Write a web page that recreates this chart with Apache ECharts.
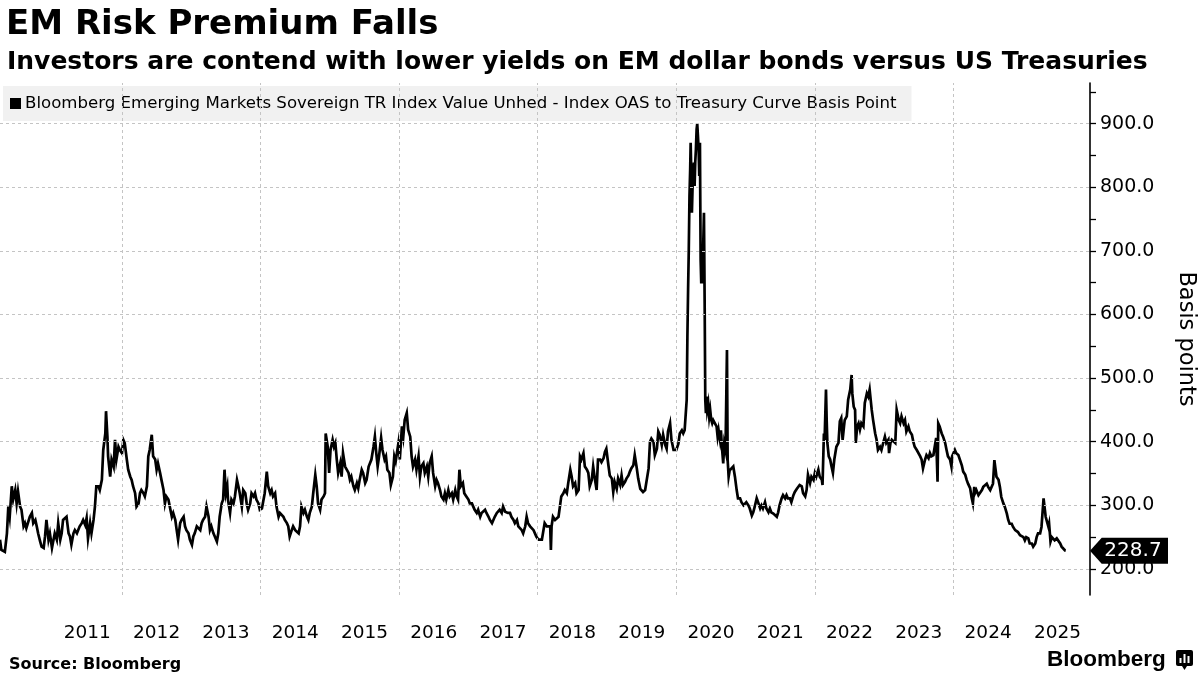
<!DOCTYPE html>
<html><head><meta charset="utf-8">
<script src="https://cdn.jsdelivr.net/npm/echarts@6/dist/echarts.min.js"></script>
<style>html,body{margin:0;padding:0;background:#fff}#c{width:1200px;height:675px}</style>
</head><body><div id="c"></div>
<script>
// ---- data: [decimal year, OAS basis points] ----
const s2010_2012 = [[2010.24,246],[2010.26,230],[2010.31,227],[2010.34,256],[2010.36,298],[2010.38,282],[2010.41,330],[2010.43,309],[2010.46,324],[2010.48,303],[2010.50,322],[2010.53,298],[2010.55,293],[2010.58,267],[2010.60,272],[2010.62,264],[2010.67,282],[2010.70,288],[2010.72,272],[2010.75,277],[2010.77,267],[2010.79,256],[2010.82,243],[2010.84,235],[2010.87,233],[2010.89,251],[2010.91,277],[2010.94,246],[2010.96,256],[2010.99,233],[2011.01,230],[2011.03,256],[2011.06,246],[2011.08,272],[2011.11,246],[2011.13,256],[2011.15,277],[2011.20,282],[2011.23,256],[2011.25,251],[2011.27,238],[2011.30,256],[2011.32,261],[2011.35,256],[2011.39,267],[2011.42,272],[2011.44,277],[2011.47,269],[2011.49,280],[2011.51,248],[2011.54,272],[2011.56,256],[2011.59,277],[2011.61,298],[2011.63,330],[2011.66,330],[2011.68,324],[2011.71,340],[2011.73,387],[2011.76,413],[2011.77,448],[2011.79,408],[2011.80,377],[2011.83,345],[2011.85,372],[2011.88,361],[2011.90,403],[2011.92,372],[2011.95,392],[2011.97,387],[2012.00,382],[2012.02,403],[2012.04,398],[2012.07,372],[2012.09,356],[2012.12,345],[2012.14,340],[2012.16,330],[2012.19,319],[2012.21,298],[2012.24,303],[2012.26,319],[2012.28,324],[2012.31,319],[2012.33,314],[2012.36,330],[2012.38,377],[2012.40,387],[2012.43,411],[2012.45,377],[2012.48,372],[2012.50,356],[2012.52,366],[2012.55,351],[2012.57,340],[2012.60,324],[2012.62,303],[2012.64,314],[2012.67,309],[2012.69,298],[2012.72,282],[2012.74,288],[2012.77,277],[2012.79,261],[2012.81,246],[2012.84,272],[2012.86,277],[2012.89,282],[2012.91,267],[2012.93,261],[2012.96,256],[2012.98,246],[2013.01,238],[2013.03,251],[2013.05,256],[2013.08,267]];
const s2013_2015 = [[2013.13,261],[2013.15,272],[2013.17,277],[2013.20,282],[2013.22,298],[2013.25,282],[2013.27,261],[2013.29,267],[2013.32,256],[2013.34,251],[2013.37,243],[2013.39,256],[2013.41,282],[2013.44,303],[2013.46,309],[2013.48,356],[2013.50,319],[2013.52,330],[2013.53,309],[2013.56,288],[2013.58,309],[2013.61,303],[2013.63,314],[2013.66,340],[2013.68,330],[2013.70,319],[2013.73,298],[2013.75,324],[2013.78,319],[2013.80,303],[2013.82,293],[2013.85,303],[2013.87,319],[2013.90,314],[2013.92,319],[2013.94,309],[2013.97,303],[2013.99,293],[2014.02,295],[2014.04,298],[2014.06,319],[2014.09,353],[2014.11,330],[2014.14,319],[2014.16,324],[2014.18,314],[2014.21,319],[2014.23,298],[2014.26,282],[2014.28,288],[2014.30,288],[2014.33,282],[2014.35,277],[2014.38,272],[2014.40,267],[2014.42,251],[2014.45,261],[2014.47,267],[2014.50,261],[2014.52,261],[2014.55,256],[2014.57,267],[2014.59,298],[2014.62,288],[2014.64,293],[2014.67,282],[2014.69,277],[2014.71,288],[2014.74,298],[2014.76,319],[2014.79,348],[2014.81,330],[2014.83,303],[2014.86,293],[2014.88,309],[2014.91,314],[2014.93,319],[2014.94,413],[2014.97,392],[2014.99,351],[2015.01,387],[2015.04,403],[2015.06,392],[2015.08,398],[2015.10,372],[2015.12,351],[2015.15,366],[2015.17,345],[2015.19,382],[2015.22,361],[2015.24,361],[2015.27,351],[2015.29,340],[2015.31,345],[2015.34,330],[2015.36,324],[2015.39,335],[2015.41,327],[2015.43,340],[2015.46,356],[2015.48,351],[2015.51,335],[2015.53,340],[2015.56,361],[2015.58,361],[2015.60,372],[2015.63,392],[2015.65,408],[2015.67,382],[2015.69,361],[2015.71,377],[2015.74,406],[2015.76,387],[2015.79,372],[2015.81,377],[2015.83,356],[2015.86,351],[2015.88,332],[2015.91,345],[2015.93,377],[2015.95,369],[2015.99,398]];
const s2016_2018 = [[2016.01,372],[2016.04,424],[2016.06,408],[2016.08,434],[2016.11,445],[2016.13,419],[2016.16,408],[2016.18,377],[2016.20,361],[2016.23,372],[2016.25,356],[2016.28,377],[2016.30,345],[2016.32,361],[2016.35,366],[2016.37,351],[2016.40,361],[2016.42,345],[2016.44,366],[2016.47,377],[2016.49,351],[2016.52,330],[2016.54,340],[2016.56,335],[2016.59,324],[2016.61,314],[2016.64,309],[2016.66,319],[2016.68,309],[2016.71,324],[2016.73,314],[2016.76,319],[2016.78,309],[2016.81,324],[2016.83,314],[2016.85,309],[2016.87,356],[2016.89,330],[2016.92,335],[2016.94,319],[2016.97,314],[2017.00,309],[2017.02,303],[2017.05,303],[2017.07,298],[2017.09,293],[2017.12,288],[2017.14,293],[2017.17,282],[2017.19,288],[2017.21,288],[2017.24,293],[2017.26,288],[2017.29,282],[2017.31,277],[2017.34,272],[2017.36,277],[2017.38,282],[2017.41,288],[2017.43,288],[2017.45,293],[2017.48,288],[2017.50,298],[2017.53,290],[2017.55,293],[2017.57,288],[2017.60,288],[2017.62,282],[2017.65,277],[2017.67,272],[2017.70,277],[2017.72,267],[2017.74,267],[2017.77,261],[2017.79,256],[2017.82,267],[2017.84,282],[2017.86,272],[2017.89,267],[2017.91,264],[2017.94,261],[2017.96,261],[2017.98,251],[2018.01,246],[2018.03,243],[2018.06,246],[2018.08,243],[2018.10,272],[2018.13,267],[2018.15,269],[2018.18,267],[2018.19,230],[2018.20,267],[2018.22,282],[2018.25,277],[2018.27,277],[2018.30,282],[2018.32,298],[2018.34,314],[2018.37,319],[2018.39,324],[2018.42,319],[2018.44,335],[2018.47,356],[2018.49,345],[2018.51,330],[2018.54,335],[2018.56,319],[2018.59,324],[2018.61,377],[2018.63,372],[2018.66,382],[2018.68,361],[2018.71,356],[2018.73,351],[2018.75,330],[2018.78,340],[2018.80,361],[2018.82,345],[2018.85,324],[2018.87,372],[2018.90,372]];
const s2019_2021 = [[2018.92,368],[2018.95,374],[2018.97,384],[2018.99,389],[2019.02,363],[2019.04,347],[2019.07,342],[2019.09,321],[2019.11,337],[2019.14,326],[2019.16,342],[2019.19,332],[2019.21,347],[2019.23,332],[2019.26,337],[2019.28,342],[2019.31,347],[2019.33,353],[2019.35,358],[2019.38,363],[2019.40,379],[2019.43,358],[2019.45,342],[2019.48,326],[2019.50,326],[2019.52,321],[2019.55,324],[2019.57,321],[2019.60,358],[2019.62,400],[2019.64,405],[2019.67,400],[2019.69,379],[2019.72,389],[2019.74,416],[2019.76,411],[2019.79,395],[2019.81,411],[2019.84,395],[2019.86,389],[2019.88,416],[2019.91,429],
[2019.93,403],[2019.96,387],[2019.98,390],[2020.00,387],[2020.03,397],[2020.05,413],[2020.08,418],[2020.10,413],[2020.12,418],[2020.14,450],[2020.15,466],[2020.16,565],[2020.17,639],[2020.18,702],[2020.19,786],[2020.20,828],[2020.207,870],[2020.215,828],[2020.225,760],[2020.236,807],[2020.244,818],[2020.254,839],[2020.264,802],[2020.273,839],[2020.283,860],[2020.293,891],[2020.302,900],[2020.312,881],[2020.322,860],[2020.331,818],[2020.341,870],[2020.351,686],[2020.360,649],[2020.370,691],[2020.380,649],[2020.389,712],[2020.399,760],[2020.409,618],[2020.418,466],[2020.427,445],[2020.437,471],[2020.446,450],[2020.461,460],[2020.475,439],[2020.489,450],[2020.504,434],[2020.518,429],[2020.533,434],[2020.557,429],[2020.581,424],[2020.596,408],[2020.610,418],[2020.630,403],[2020.644,418],[2020.658,392],[2020.677,366],[2020.692,397],[2020.710,387],[2020.731,544],[2020.741,371],[2020.755,345],[2020.770,355],[2020.793,355],[2020.822,361],[2020.846,345],[2020.871,324],
[2020.89,311],[2020.92,311],[2020.94,305],[2020.97,300],[2020.99,300],[2021.01,305],[2021.04,300],[2021.06,295],[2021.09,284],[2021.11,289],[2021.13,297],[2021.16,311],[2021.18,305],[2021.21,295],[2021.23,300],[2021.25,295],[2021.28,305],[2021.30,295],[2021.33,289],[2021.35,295],[2021.37,289],[2021.40,287],[2021.42,284],[2021.45,282],[2021.47,289],[2021.49,300],[2021.52,311],[2021.54,316],[2021.57,311],[2021.59,316],[2021.61,311],[2021.64,311],[2021.66,305],[2021.69,316],[2021.71,321],[2021.74,326],[2021.76,329]];
const s2022_2024 = [[2021.78,332],[2021.81,330],[2021.83,319],[2021.86,314],[2021.88,324],[2021.90,348],[2021.93,335],[2021.95,345],[2021.98,340],[2022.00,351],[2022.02,345],[2022.05,356],[2022.07,345],[2022.10,340],[2022.11,332],[2022.13,413],[2022.14,403],[2022.16,482],[2022.17,434],[2022.18,398],[2022.20,377],[2022.22,372],[2022.24,361],[2022.26,351],[2022.28,372],[2022.29,372],[2022.31,392],[2022.34,398],[2022.36,432],[2022.38,437],[2022.40,403],[2022.42,424],[2022.43,434],[2022.46,440],[2022.48,466],[2022.51,482],[2022.53,505],[2022.54,476],[2022.56,455],[2022.58,450],[2022.59,398],[2022.61,424],[2022.63,429],[2022.65,419],[2022.67,429],[2022.70,424],[2022.72,461],[2022.75,476],[2022.77,471],[2022.79,482],[2022.82,450],[2022.84,434],[2022.87,413],[2022.89,403],[2022.91,387],[2022.94,392],[2022.96,387],[2022.99,400],[2023.01,408],[2023.03,398],[2023.06,403],[2023.07,382],[2023.09,398],[2023.11,403],[2023.13,406],[2023.16,398],[2023.18,450],[2023.19,453],[2023.21,434],[2023.23,429],[2023.25,440],[2023.28,429],[2023.30,434],[2023.32,416],[2023.35,424],[2023.37,416],[2023.40,411],[2023.42,400],[2023.44,392],[2023.47,387],[2023.49,390],[2023.52,377],[2023.54,372],[2023.56,358],[2023.59,372],[2023.61,379],[2023.64,374],[2023.66,382],[2023.68,377],[2023.71,379],[2023.73,377],[2023.75,406],[2023.76,372],[2023.77,337],[2023.78,429],[2023.80,424],[2023.83,413],[2023.85,408],[2023.88,398],[2023.90,387],[2023.92,377],[2023.95,372],[2023.97,361],[2023.98,377],[2024.02,387],[2024.04,382],[2024.07,379]];
const s2024_2025 = [[2024.09,376],[2024.12,363],[2024.14,353],[2024.17,348],[2024.19,340],[2024.21,334],[2024.24,327],[2024.26,313],[2024.28,303],[2024.30,329],[2024.31,319],[2024.33,324],[2024.36,316],[2024.38,319],[2024.41,324],[2024.43,329],[2024.45,332],[2024.48,334],[2024.50,329],[2024.53,324],[2024.55,327],[2024.57,334],[2024.59,371],[2024.61,374],[2024.62,345],[2024.65,340],[2024.67,329],[2024.69,313],[2024.72,303],[2024.74,298],[2024.77,287],[2024.79,277],[2024.81,271],[2024.84,271],[2024.86,266],[2024.89,261],[2024.91,264],[2024.93,258],[2024.96,253],[2024.98,250],[2025.01,250],[2025.03,245],[2025.05,250],[2025.08,248],[2025.10,240],[2025.13,240],[2025.15,235],[2025.18,240],[2025.20,250],[2025.22,256],[2025.25,256],[2025.27,266],[2025.30,311],[2025.32,292],[2025.33,282],[2025.35,285],[2025.37,266],[2025.38,271],[2025.40,243],[2025.42,250],[2025.44,250],[2025.46,245],[2025.49,248],[2025.51,250],[2025.54,240],[2025.56,235],[2025.58,232],[2025.61,229],[2025.62,228.7]];

const yearLabels = ['2011','2012','2013','2014','2015','2016','2017','2018','2019','2020','2021','2022','2023','2024','2025'];
const gridYears = [2012,2014,2016,2018,2020,2022,2024];
const yTickValues = [200,300,400,500,600,700,800,900];
const lastValue = 228.7;
const seriesName = 'Bloomberg Emerging Markets Sovereign TR Index Value Unhed - Index OAS to Treasury Curve Basis Point';

const spread = [].concat(s2010_2012, s2013_2015, s2016_2018, s2019_2021, s2022_2024, s2024_2025);
const X_MIN = 2010.24, X_MAX = 2025.97, Y_MIN = 159, Y_MAX = 964;
const FONT = 'DejaVu Sans';
const minorTicks = [];
for (let v = 200; v <= 950; v += 50) minorTicks.push(v);

const chart = echarts.init(document.getElementById('c'), null, {renderer: 'canvas'});
chart.setOption({
  animation: false,
  backgroundColor: '#fff',
  title: [
    {text: 'EM Risk Premium Falls', left: 1, top: 3,
     textStyle: {fontFamily: FONT, fontWeight: 'bold', fontSize: 34, color: '#000'}},
    {text: 'Investors are contend with lower yields on EM dollar bonds versus US Treasuries', left: 2, top: 45,
     textStyle: {fontFamily: FONT, fontWeight: 'bold', fontSize: 25, color: '#000'}},
    {text: 'Source: Bloomberg', left: 4, top: 652,
     textStyle: {fontFamily: FONT, fontWeight: 'bold', fontSize: 16, color: '#000'}}
  ],
  legend: {
    data: [seriesName], left: 3, top: 86, padding: [9, 15, 9, 7],
    backgroundColor: 'rgba(236,236,236,0.75)', borderRadius: 0,
    icon: 'rect', itemWidth: 11, itemHeight: 11, itemGap: 5, selectedMode: false,
    textStyle: {fontFamily: FONT, fontSize: 16.6, color: '#000', padding: [0, 0, 0, -1]}
  },
  grid: {left: 0, right: 110, top: 83, bottom: 80, containLabel: false, outerBoundsMode: 'none'},
  xAxis: {
    type: 'value', min: X_MIN, max: X_MAX,
    axisLine: {show: false}, axisTick: {show: false}, splitLine: {show: false},
    axisLabel: {
      customValues: yearLabels.map(y => +y + 0.5),
      formatter: v => String(Math.floor(v)),
      margin: 29, fontFamily: FONT, fontSize: 18.5, color: '#000'
    }
  },
  yAxis: {
    type: 'value', position: 'right', min: Y_MIN, max: Y_MAX,
    name: 'Basis points', nameLocation: 'middle', nameRotate: -90, nameGap: 84,
    nameTextStyle: {fontFamily: FONT, fontSize: 22.5, color: '#000'},
    axisLine: {show: true, lineStyle: {color: '#000', width: 1.6}},
    axisTick: {show: true, customValues: minorTicks, length: 6, lineStyle: {color: '#000', width: 1.3}},
    splitLine: {show: false},
    axisLabel: {
      customValues: yTickValues, formatter: v => v.toFixed(1),
      margin: 10, fontFamily: FONT, fontSize: 19, color: '#000'
    }
  },
  series: [
    {
      name: 'grid', type: 'line', data: [], silent: true, z: 1,
      markLine: {
        silent: true, symbol: ['none', 'none'], label: {show: false}, animation: false,
        lineStyle: {color: '#c4c4c4', width: 1, type: [3, 3]},
        emphasis: {disabled: true},
        data: gridYears.map(y => ({xAxis: y})).concat(yTickValues.map(v => ({yAxis: v})))
      }
    },
    {
      name: seriesName, type: 'line', data: spread, showSymbol: false, z: 3,
      lineStyle: {color: '#000', width: 2.7, join: 'miter'}, itemStyle: {color: '#000'},
      emphasis: {disabled: true},
      markPoint: {
        silent: true, animation: false,
        symbol: 'path://M0,13L12,0L80,0L80,26L12,26Z', symbolSize: [78, 26], symbolOffset: ['50%', 0],
        itemStyle: {color: '#000'},
        label: {show: true, position: 'inside', offset: [4, 0], color: '#fff', fontFamily: FONT, fontSize: 20,
                formatter: () => lastValue.toFixed(1)},
        data: [{coord: [X_MAX, lastValue]}]
      }
    }
  ],
  graphic: [
    {type: 'text', left: 1047, top: 648,
     style: {text: 'Bloomberg', font: 'bold 22.5px "Liberation Sans"', fill: '#000'}},
    {type: 'group', left: 1176, top: 650, children: [
      {type: 'rect', shape: {x: 0, y: 0, width: 17, height: 16, r: 2}, style: {fill: '#000'}},
      {type: 'polygon', shape: {points: [[6, 16], [11, 16], [8.5, 20]]}, style: {fill: '#000'}},
      {type: 'rect', shape: {x: 3.5, y: 8, width: 2, height: 5}, style: {fill: '#fff'}},
      {type: 'rect', shape: {x: 7.5, y: 4, width: 2, height: 9}, style: {fill: '#fff'}},
      {type: 'rect', shape: {x: 11.5, y: 6, width: 2, height: 7}, style: {fill: '#fff'}}
    ]}
  ]
});
</script></body></html>
